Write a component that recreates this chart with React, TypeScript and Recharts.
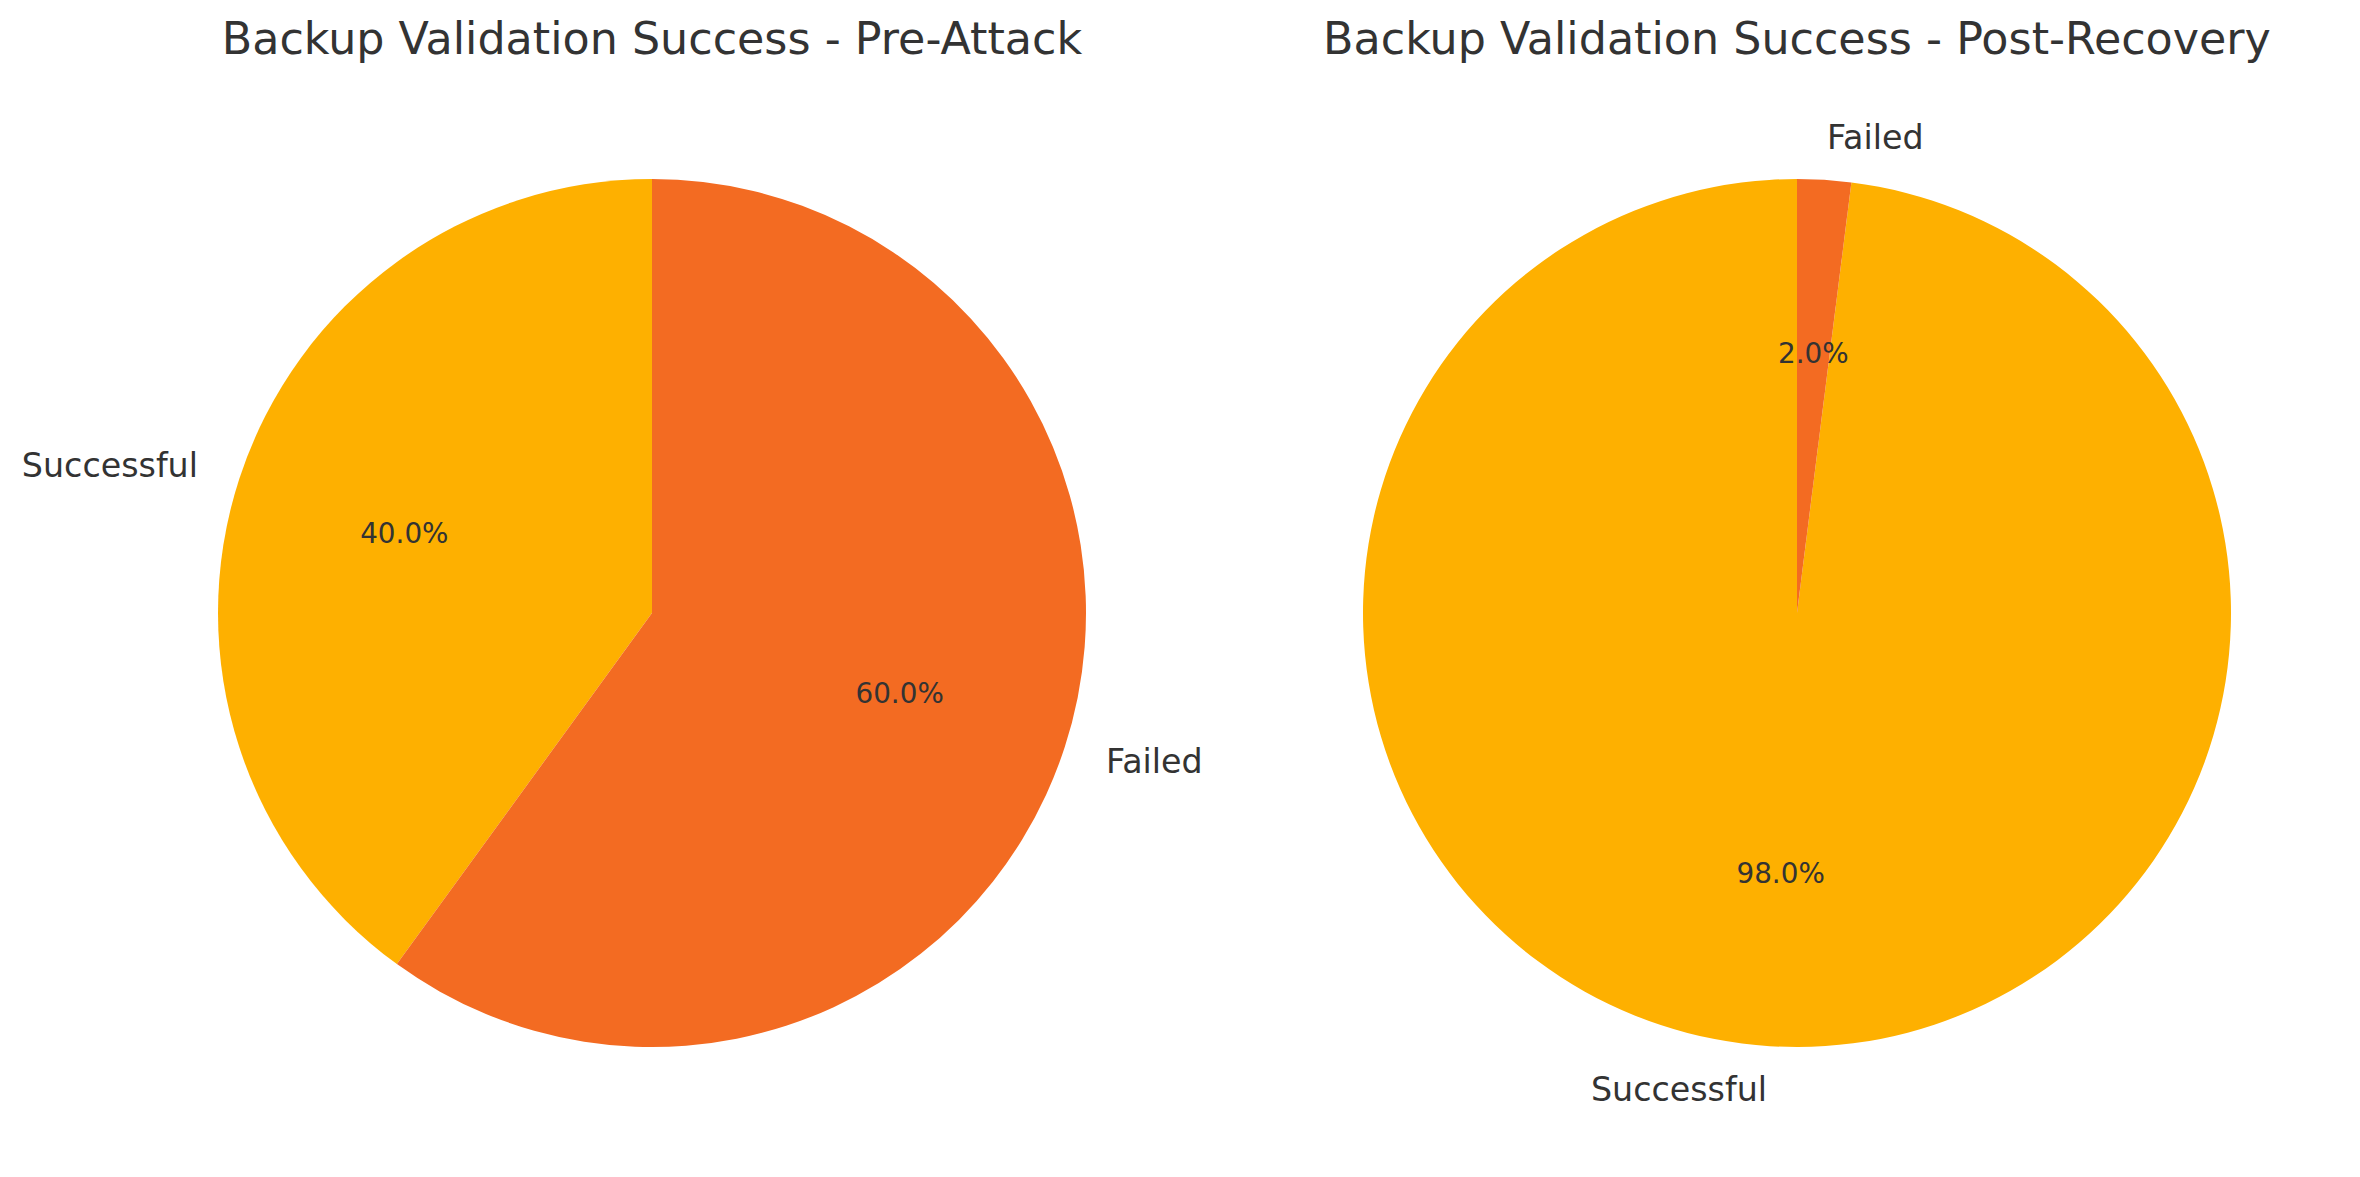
import React from 'react';
import { PieChart, Pie, Cell } from 'recharts';

const categories = ['Successful', 'Failed'];
const preAttack = [40, 60];
const postRecovery = [98, 2];
const titles = ['Backup Validation Success - Pre-Attack', 'Backup Validation Success - Post-Recovery'];
const colors = ['#FEB000', '#F36B22'];

const preData = categories.map((name, i) => ({ name, value: preAttack[i] }));
const postData = categories.map((name, i) => ({ name, value: postRecovery[i] }));

const W = 2360;
const H = 1177;
const R = 434;
const CY = 613;
const CX = [652, 1797];
const RAD = Math.PI / 180;
const FONT = 'DejaVu Sans, sans-serif';
const TEXT = '#333333';

// matplotlib-style labels: name at 1.1r, percentage at 0.6r
const renderLabel = (props: any) => {
  const { cx, cy, midAngle, outerRadius, percent, name } = props;
  const cos = Math.cos(-midAngle * RAD);
  const sin = Math.sin(-midAngle * RAD);
  const lx = cx + outerRadius * 1.1 * cos;
  const ly = cy + outerRadius * 1.1 * sin;
  const px = cx + outerRadius * 0.6 * cos;
  const py = cy + outerRadius * 0.6 * sin;
  return (
    <g>
      <text x={lx} y={ly} dy="0.36em" textAnchor={cos < 0 ? 'end' : 'start'} fill={TEXT} fontSize={33.3} fontFamily={FONT}>
        {name}
      </text>
      <text x={px} y={py} dy="0.36em" textAnchor="middle" fill={TEXT} fontSize={27.8} fontFamily={FONT}>
        {(percent * 100).toFixed(1)}%
      </text>
    </g>
  );
};

export default function App() {
  return (
    <div style={{ position: 'absolute', left: 0, top: 0, width: W, height: H, background: '#fff' }}>
      <PieChart width={W} height={H} margin={{ top: 0, right: 0, bottom: 0, left: 0 }}>
        {[preData, postData].map((d, k) => (
          <Pie
            key={k}
            data={d}
            dataKey="value"
            nameKey="name"
            cx={CX[k]}
            cy={CY}
            outerRadius={R}
            startAngle={90}
            endAngle={450}
            stroke="none"
            label={renderLabel}
            labelLine={false}
            isAnimationActive={false}
          >
            {d.map((_, i) => (
              <Cell key={i} fill={colors[i]} />
            ))}
          </Pie>
        ))}
      </PieChart>
      <svg width={W} height={120} style={{ position: 'absolute', left: 0, top: 0, pointerEvents: 'none' }}>
        {titles.map((t, k) => (
          <text key={k} x={CX[k]} y={54} textAnchor="middle" fill={TEXT} fontSize={44.4} fontFamily={FONT}>
            {t}
          </text>
        ))}
      </svg>
    </div>
  );
}
